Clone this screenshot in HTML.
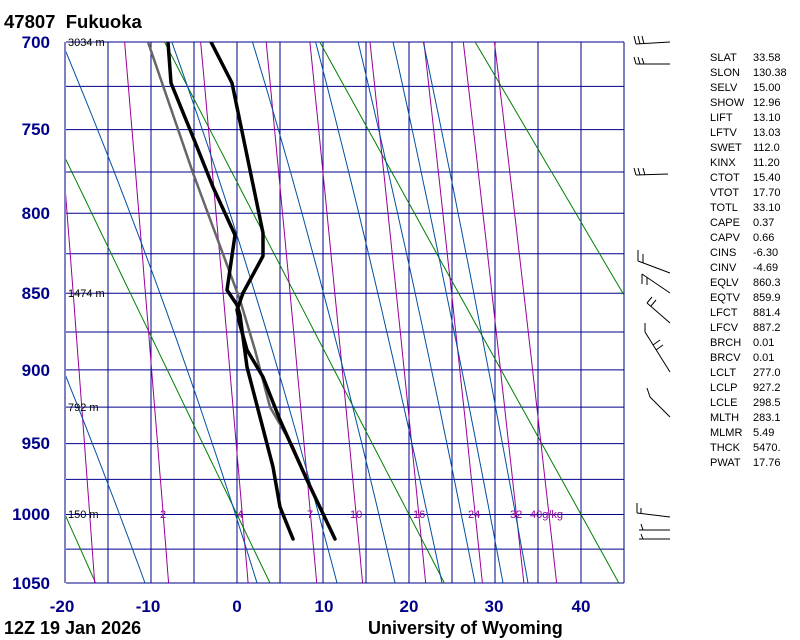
<!DOCTYPE html>
<html><head><meta charset="utf-8"><style>
html,body{margin:0;padding:0;background:#fff;}
svg{display:block;}
.b{font-family:"Liberation Sans",sans-serif;font-weight:bold;}
.s{font-family:"Liberation Sans",sans-serif;font-size:11px;fill:#000;}
</style></head><body>
<svg id="g" width="800" height="640" xmlns="http://www.w3.org/2000/svg">
<defs><clipPath id="c"><rect x="66" y="42" width="558" height="541"/></clipPath></defs>
<g id="grid"></g>
<g id="lines" clip-path="url(#c)"></g>
<g id="prof" clip-path="url(#c)" fill="none" stroke-linejoin="round" stroke-linecap="round">
<polyline points="148,42 193,173 240,300 255,350 270,407 293,447 307,480 335,539" stroke="#666" stroke-width="2.5"/>
<polyline points="211,42 232,83 263,233 263,256 243,293 237,310 240,325 247,350 263,377 280,420 307,480 335,539" stroke="#000" stroke-width="3.5"/>
<polyline points="168,42 171,83 193,137 213,187 235,235 227,290 237,305 240,315 247,367 260,417 273,467 280,507 293,539" stroke="#000" stroke-width="3.5"/>
</g>
<g class="s" font-size="11">
<text x="68" y="46">3034 m</text>
<text x="68" y="297">1474 m</text>
<text x="68" y="411">792 m</text>
<text x="68" y="518">150 m</text>
</g>
<g class="s" style="fill:#990099" font-size="11">
<text x="160" y="518">2</text><text x="237" y="518">4</text><text x="307" y="518">7</text>
<text x="350" y="518">10</text><text x="413" y="518">16</text><text x="468" y="518">24</text>
<text x="510" y="518">32</text><text x="530" y="518">40g/kg</text>
</g>
<g class="b" fill="#00008b" font-size="17" text-anchor="end">
<text x="50" y="48">700</text><text x="50" y="135">750</text><text x="50" y="219">800</text>
<text x="50" y="299">850</text><text x="50" y="376">900</text><text x="50" y="449">950</text>
<text x="50" y="520">1000</text><text x="50" y="589">1050</text>
</g>
<g class="b" fill="#00008b" font-size="17" text-anchor="middle">
<text x="62" y="612">-20</text><text x="148" y="612">-10</text><text x="237" y="612">0</text>
<text x="324" y="612">10</text><text x="409" y="612">20</text><text x="494" y="612">30</text><text x="581" y="612">40</text>
</g>
<text class="b" x="4" y="28" font-size="18.5" fill="#000">47807&#160;&#160;Fukuoka</text>
<text class="b" x="4" y="634" font-size="18" fill="#000">12Z 19 Jan 2026</text>
<text class="b" x="368" y="634" font-size="18" fill="#000">University of Wyoming</text>
<g stroke="#000" stroke-width="1" fill="none">
<path d="M636,44 L670,42 M636,44 L634,36 M640,44 L638,36 M644,44 L642,36"/>
<path d="M636,64 L670,64 M636,64 L634,57 M640,64 L638,57 M644,64 L642,58"/>
<path d="M636,175 L668,174 M636,175 L634,168 M640,175 L638,168 M645,175 L643,168"/>
<path d="M638,261 L670,273 M638,261 L638,250 M643,263 L643,254"/>
<path d="M642,274 L670,293 M642,274 L642,284 M647,277 L647,285"/>
<path d="M647,303 L670,323 M647,303 L652,297 M651,306 L656,300"/>
<path d="M645,332 L670,372 M645,332 L645,323 M653,345 L660,340 M656,350 L663,345"/>
<path d="M650,397 L670,417 M650,397 L647,388"/>
<path d="M637,513 L670,517 M637,513 L637,503 M641,514 L641,508"/>
<path d="M639,530 L670,530 M641,524 L643,530 M639,539 L670,539 M641,534 L643,539"/>
</g>
<g class="s" id="idx"></g>
</svg>
<script>
(function(){
var NS="http://www.w3.org/2000/svg";
var K=0.286,P0=Math.pow(700,K),P1=Math.pow(1050,K);
function Y(p){return 42+(Math.pow(p,K)-P0)/(P1-P0)*541;}
function X(t){return 237+8.6*t;}
function add(parent,tag,attrs,txt){var e=document.createElementNS(NS,tag);for(var k in attrs)e.setAttribute(k,attrs[k]);if(txt!=null)e.textContent=txt;parent.appendChild(e);return e;}
var grid=document.getElementById('grid'),lines=document.getElementById('lines');
var gc="#00008b";
for(var p=700;p<=1050;p+=25){var y=Y(p);add(grid,'line',{x1:66,x2:624,y1:y,y2:y,stroke:gc,'stroke-width':1});}
for(var t=-20;t<=45;t+=5){var x=X(t);add(grid,'line',{x1:x,x2:x,y1:42,y2:583,stroke:gc,'stroke-width':1});}
function pl(pts,col){add(lines,'polyline',{points:pts.join(' '),fill:'none',stroke:col,'stroke-width':1});}
[253.15,273.15,293.15,313.15,333.15].forEach(function(th){var pts=[];for(var p=700;p<=1050;p+=10){var T=th*Math.pow(p/1000,K)-273.15;pts.push(X(T).toFixed(1)+','+Y(p).toFixed(1));}pl(pts,'#008000');});
function es(T){return 6.112*Math.exp(17.67*T/(T+243.5));}
[1,2,4,7,10,16,24,32,40].forEach(function(w){var pts=[];for(var p=700;p<=1050;p+=10){var e=w*p/(622+w);var l=Math.log(e/6.112);var Td=243.5*l/(17.67-l);pts.push(X(Td).toFixed(1)+','+Y(p).toFixed(1));}pl(pts,'#990099');});
[145,257,337,395,442,475,503,528].forEach(function(x0){var T=(x0-237)/8.6;var pts=[];var p=1050;pts.push(X(T).toFixed(1)+','+Y(p).toFixed(1));
while(p>700){var Tk=T+273.15;var e=es(T);var rs=0.622*e/(p-e);var d=(287*Tk+2.5e6*rs)/(p*(1004+2.5e6*2.5e6*rs*0.622/(287*Tk*Tk)));T-=d*1;p-=1;if(p%10==0)pts.push(X(T).toFixed(1)+','+Y(p).toFixed(1));}
pl(pts,'#0050a0');});
var idx=[["SLAT","33.58"],["SLON","130.38"],["SELV","15.00"],["SHOW","12.96"],["LIFT","13.10"],["LFTV","13.03"],["SWET","112.0"],["KINX","11.20"],["CTOT","15.40"],["VTOT","17.70"],["TOTL","33.10"],["CAPE","0.37"],["CAPV","0.66"],["CINS","-6.30"],["CINV","-4.69"],["EQLV","860.3"],["EQTV","859.9"],["LFCT","881.4"],["LFCV","887.2"],["BRCH","0.01"],["BRCV","0.01"],["LCLT","277.0"],["LCLP","927.2"],["LCLE","298.5"],["MLTH","283.1"],["MLMR","5.49"],["THCK","5470."],["PWAT","17.76"]];
var g=document.getElementById('idx');
idx.forEach(function(r,i){var y=61+i*15;add(g,'text',{x:710,y:y},r[0]);add(g,'text',{x:753,y:y},r[1]);});
})();
</script>
</body></html>
